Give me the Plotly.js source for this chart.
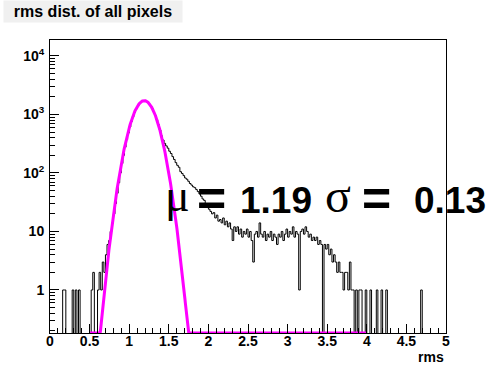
<!DOCTYPE html>
<html>
<head>
<meta charset="utf-8">
<script src="https://cdn.plot.ly/plotly-3.0.1.min.js"></script>
<style>html,body{margin:0;padding:0;background:#fff;}#chart{width:496px;height:372px;}</style>
</head>
<body>
<div id="chart"></div>
<script>
// ---- data ----
const binStart = 0.0;
const binWidth = 0.02;
const counts = [
  0,0,0,0,0,0,0,0,1,1, 0,0,0,0,1,0,1,0,1,0,
  0,0,0,0,0,0,1,2,0,0, 1,2,1,3,2,4,6,7,10,14,
  20,30,45,68,100,145,200,275,370,480, 610,760,920,1080,1240,1390,1520,1620,1690,1720,
  1690,1630,1530,1410,1270,1120,960,810,670,540, 430,365,320,290,265,235,215,190,170,150,
  135,125,105,98,90,82,78,72,66,62, 58,56,52,48,44,40,36,34,30,27,
  24,22,20,21,17,19,15,16,14,17, 13,15,12,14,11,7,12,10,12,9,
  11,8,10,9,11,8,10,7,3,9, 10,8,14,9,8,10,7,9,8,10,
  7,9,8,6,9,8,10,7,9,11, 8,10,9,12,8,10,9,1,10,11,
  9,12,10,8,9,7,8,7,8,6, 7,6,0,6,5,6,4,5,3,4,
  3,2,3,2,2,1,2,2,1,3, 1,1,0,1,0,1,1,0,0,1,
  0,0,1,0,0,0,1,0,0,1, 0,0,1,0,0,0,0,0,0,0,
  0,0,0,0,0,0,0,0,0,0, 0,0,0,0,1,0,0,0,0,0,
  0,0,0,0,0,0,0,0,0,0
];
const fitMean = 1.19;
const fitSigma = 0.13;
const fitAmp = 1720;
const fitRange = [0.5, 4.0];
const xTickVals = [0,0.5,1,1.5,2,2.5,3,3.5,4,4.5,5];
const xTickText = ['0','0.5','1','1.5','2','2.5','3','3.5','4','4.5','5'];
const yTickVals = [1,10,100,1000,10000];
const yTickText = ['1','10','10<sup>2</sup>','10<sup>3</sup>','10<sup>4</sup>'];
const titleText = 'rms dist. of all pixels';
const xTitle = 'rms';
const muLabel = '\u03bc';
const sigmaLabel = '\u03c3';
const eqLabel = '=';
const muText = '1.19';
const sigmaText = '0.13';

// ---- geometry ----
const W = 496, H = 372;
const mL = 50, mR = 50, mT = 40, mB = 39;
const pw = W - mL - mR, ph = H - mT - mB;
const yMin = 0.184, yMax = 18700;
const px = v => (v - mL) / pw;
const py = v => (H - mB - v) / ph;

// histogram step line
const edges = [], ys = [];
for (let i = 0; i <= counts.length; i++) {
  edges.push(binStart + i * binWidth);
  const c = counts[Math.min(i, counts.length - 1)];
  ys.push(c > 0 ? c : 1e-3);
}
// fit curve
const fx = [], fy = [];
for (let x = fitRange[0]; x <= fitRange[1] + 1e-9; x += 0.004) {
  const g = fitAmp * Math.exp(-Math.pow(x - fitMean, 2) / (2 * fitSigma * fitSigma));
  fx.push(x); fy.push(Math.max(g, yMin));
}

const yMinor = [];
for (let e = -1; e <= 4; e++) for (let m = 2; m <= 9; m++) {
  const v = m * Math.pow(10, e);
  if (v > yMin && v < yMax) yMinor.push(v);
}
const xMinor = [];
for (let k = 0; k <= 50; k++) if (k % 5 !== 0) xMinor.push(k / 10);

const F = 'Liberation Sans, Arial, Helvetica, sans-serif';
const SERIF = 'Liberation Serif, Times New Roman, serif';

const traces = [
  {x: edges, y: ys, type: 'scatter', mode: 'lines', line: {shape: 'hv', color: '#000', width: 1}, hoverinfo: 'skip'},
  {x: fx, y: fy, type: 'scatter', mode: 'lines', line: {color: '#ff00ff', width: 3}, hoverinfo: 'skip'}
];

const ann = (t, xpx, ypx, fam, bold, size) => ({
  text: t, xref: 'paper', yref: 'paper', x: px(xpx), y: py(ypx),
  xanchor: 'left', yanchor: 'middle', showarrow: false,
  font: {family: fam, size: size, color: '#000', weight: bold ? 'bold' : 'normal'}
});

const layout = {
  width: W, height: H,
  margin: {l: mL, r: mR, t: mT, b: mB, pad: 0},
  paper_bgcolor: '#fff', plot_bgcolor: '#fff',
  showlegend: false,
  xaxis: {
    range: [0, 5], showgrid: false, zeroline: false,
    showline: true, linecolor: '#000', linewidth: 1, mirror: true,
    ticks: 'inside', ticklen: 9, tickcolor: '#000', tickwidth: 1,
    tickmode: 'array', tickvals: xTickVals, ticktext: xTickText,
    ticklabelstandoff: -5,
    minor: {tickmode: 'array', tickvals: xMinor, ticks: 'inside', ticklen: 5, tickcolor: '#000', tickwidth: 1, showgrid: false},
    tickfont: {family: F, size: 14, color: '#000', weight: 'bold'}
  },
  yaxis: {
    type: 'log', range: [Math.log10(yMin), Math.log10(yMax)],
    showgrid: false, zeroline: false,
    showline: true, linecolor: '#000', linewidth: 1, mirror: true,
    ticks: 'inside', ticklen: 9, tickcolor: '#000', tickwidth: 1,
    tickmode: 'array', tickvals: yTickVals, ticktext: yTickText,
    ticklabelstandoff: 2,
    minor: {tickmode: 'array', tickvals: yMinor, ticks: 'inside', ticklen: 5, tickcolor: '#000', tickwidth: 1, showgrid: false},
    tickfont: {family: F, size: 14, color: '#000', weight: 'bold'}
  },
  annotations: [
    {text: titleText, xref: 'paper', yref: 'paper', x: px(93), y: py(11.5), xanchor: 'center', yanchor: 'middle',
     showarrow: false, width: 178, height: 21, bgcolor: '#f0f0f0', borderpad: 0,
     font: {family: F, size: 16, color: '#000', weight: 'bold'}},
    {text: xTitle, xref: 'paper', yref: 'paper', x: px(446), y: py(357), xanchor: 'right', yanchor: 'middle',
     showarrow: false, font: {family: F, size: 14, color: '#000', weight: 'bold'}},
    ann(muLabel, 163, 196, SERIF, false, 46),
    ann(eqLabel, 195, 199, F, true, 50),
    ann(muText, 238, 200, F, true, 37),
    ann(sigmaLabel, 323, 196, SERIF, false, 48),
    ann(eqLabel, 360, 199, F, true, 50),
    ann(sigmaText, 412, 200, F, true, 37)
  ]
};

Plotly.newPlot('chart', traces, layout, {staticPlot: true, displayModeBar: false});
</script>
</body>
</html>
